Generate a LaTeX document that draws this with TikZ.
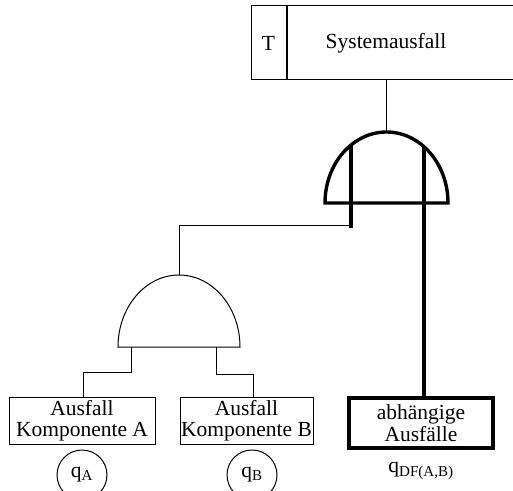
\documentclass[tikz,border=0pt]{standalone}
\usepackage{fontspec}
\setmainfont{Liberation Serif}
\usetikzlibrary{positioning}
\newcommand{\qsub}[1]{q\textsubscript{#1}}

\begin{document}
\begin{tikzpicture}[
    x=1pt,y=1pt,
    font=\fontsize{21.5}{23.5}\selectfont,
    evbox/.style={rectangle,draw,line width=1pt,inner sep=0pt,align=center},
    basic/.style={evbox,minimum height=47pt},
    depbox/.style={evbox,line width=3.2pt,minimum height=50pt},
    qcirc/.style={circle,draw,line width=1pt,minimum size=50pt,inner sep=0pt},
    wire/.style={line width=1pt},
    gthin/.style={line width=1pt},
    gthick/.style={line width=3.4pt}
  ]
    \useasboundingbox (0,0) rectangle (513,490);

    % top event
    \node[evbox,minimum width=240pt,minimum height=74pt] (sys) at (407,447) {};
    \node[evbox,left=0pt of sys,minimum width=35pt,minimum height=74pt] (tbox) {T};
    \node (syslabel) at (386,447) {Systemausfall};

    % upper gate (thick)
    \coordinate (g1top) at (386.5,358);
    \coordinate (g1l) at (351,262);
    \coordinate (g1r) at (424,343);
    \draw[gthick] (325,287) arc[start angle=180,end angle=0,x radius=61.5,y radius=71] -- cycle;
    \draw[gthick] (351,345) -- (g1l);

    % lower gate
    \coordinate (g2top) at (179,215);
    \coordinate (g2l) at (131,143);
    \coordinate (g2r) at (216,143);
    \draw[gthin] (118,143) arc[start angle=180,end angle=0,x radius=61,y radius=72] -- cycle;

    % basic events
    \node[basic,minimum width=146pt] (kompA) at (82,69.5) {Ausfall\\[-2pt]Komponente A};
    \node[basic,minimum width=133pt] (kompB) at (246.5,69.5) {Ausfall\\[-2pt]Komponente B};
    \node[depbox,minimum width=144pt] (abh) at (421,67) {abh\"angige\\[-2pt]Ausf\"alle};

    \node[qcirc] (qA) at (82,15) {\qsub{A}};
    \node[qcirc] (qB) at (252,15) {\qsub{B}};
    \node (qDF) at (421,19) {\qsub{DF(A,B)}};

    % connections
    \draw[wire] (g1top |- sys.south) -- (g1top);
    \draw[wire] ([yshift=2pt]g1l) -| (g2top);
    \draw[gthick] (g1r) -- ([xshift=3pt]abh.north);
    \draw[wire] (g2l) -- ++(0,-25) -| ([xshift=1pt]kompA.north);
    \draw[wire] (g2r) -- ++(0,-27) -| ([xshift=6.5pt]kompB.north);
\end{tikzpicture}
\end{document}
